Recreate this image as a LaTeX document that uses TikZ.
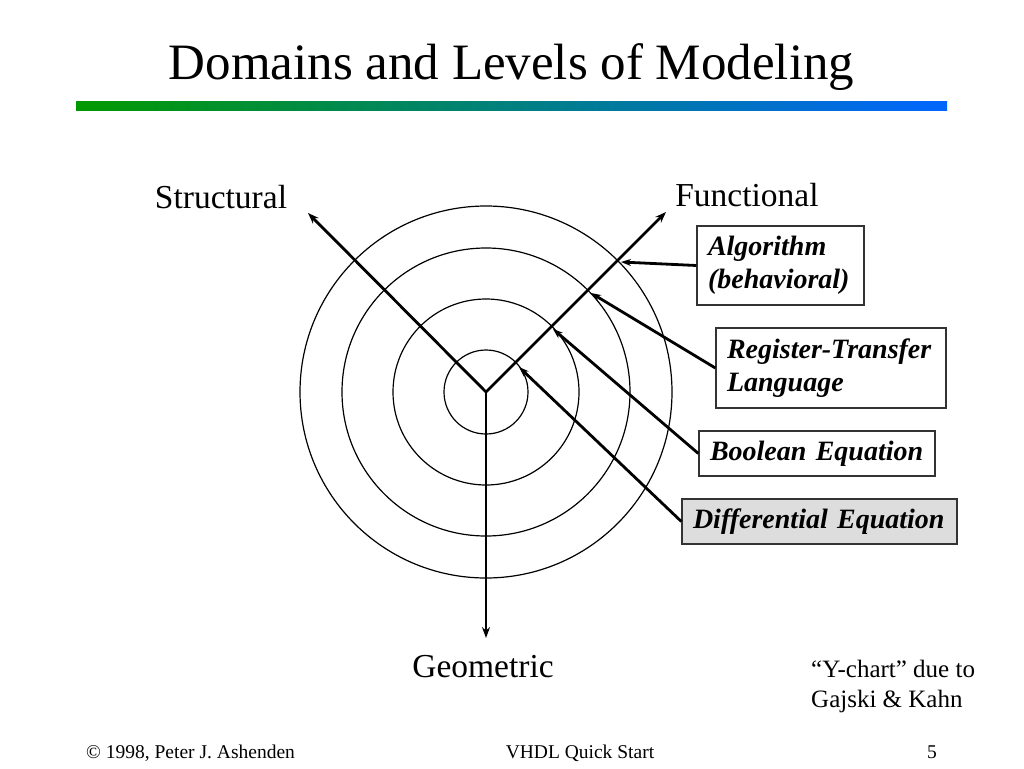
\documentclass[tikz,border=0pt]{standalone}
\usepackage{fontspec}
\setmainfont{Liberation Serif}
\usetikzlibrary{arrows.meta}
\definecolor{gstart}{RGB}{0,153,0}
\definecolor{gend}{RGB}{0,102,255}
\definecolor{boxgray}{RGB}{221,221,221}
\tikzset{
  axis/.style={line width=2.8pt,-{Stealth[length=11pt,width=8pt]}},
  ptr/.style={line width=2.8pt,-{Stealth[length=10pt,width=7pt]}},
  ring/.style={line width=1.2pt},
  lvlbox/.style={draw=black!80,line width=1.3pt,align=left,inner xsep=11pt,inner ysep=0pt,
    font=\fontsize{28}{33}\selectfont\bfseries\itshape},
  domlabel/.style={font=\fontsize{33.5}{38}\selectfont,inner sep=0pt},
  foot/.style={font=\fontsize{19.5}{22}\selectfont,inner sep=0pt},
}
\begin{document}
\begin{tikzpicture}[x=1pt,y=-1pt]
\useasboundingbox (0,0) rectangle (1024,768);
% title
\node[inner sep=0pt,anchor=base,font=\fontsize{51}{56}\selectfont] (title) at (511.5,79) {Domains and Levels of Modeling};
\shade[left color=gstart,right color=gend] (76,101) rectangle (947,110);
% rings
\coordinate (O) at (486,392);
\draw[ring] (O) circle[radius=42];
\draw[ring] (O) circle[radius=93];
\draw[ring] (O) circle[radius=144];
\draw[ring] (O) circle[radius=186];
% axes
\coordinate (S) at (308,213);
\coordinate (F) at (666,212);
\coordinate (G) at (486,638);
\draw[axis] (O) -- (S);
\draw[axis] (O) -- (F);
\draw[axis] (O) -- (G);
\node[domlabel,anchor=base] (lS) at (221,208) {Structural};
\node[domlabel,anchor=base] (lF) at (747,206) {Functional};
\node[domlabel,anchor=base] (lG) at (483,677) {Geometric};
% level boxes
\node[lvlbox,minimum width=167pt,minimum height=79pt,text width=145pt] (alg) at (780.5,265.5) {Algorithm\\(behavioral)};
\node[lvlbox,minimum width=230pt,minimum height=80pt,text width=208pt] (rtl) at (831,368) {Register-Transfer\\Language};
\node[lvlbox,minimum width=236pt,minimum height=45pt,text width=214pt] (bool) at (817,453.5) {Boolean Equation};
\node[lvlbox,fill=boxgray,minimum width=275pt,minimum height=45pt,text width=253pt] (diff) at (819.5,521.5) {Differential Equation};
\coordinate (p1) at (621,262);
\coordinate (p2) at (591,293);
\coordinate (p3) at (553,329);
\coordinate (p4) at (519,367);
\draw[ptr] (alg.west) -- (p1);
\draw[ptr] (rtl.west) -- (p2);
\draw[ptr] (bool.west) -- (p3);
\draw[ptr] (diff.west) -- (p4);
% note
\node[inner sep=0pt,anchor=base west,align=left,font=\fontsize{25}{30}\selectfont] (note) at (811,707) {``Y-chart'' due to\\Gajski \& Kahn};
% footer
\node[foot,anchor=base west] (f1) at (86,758) {© 1998, Peter J. Ashenden};
\node[foot,anchor=base] (f2) at (580,758) {VHDL Quick Start};
\node[foot,anchor=base] (f3) at (932,758) {5};
\end{tikzpicture}
\end{document}
